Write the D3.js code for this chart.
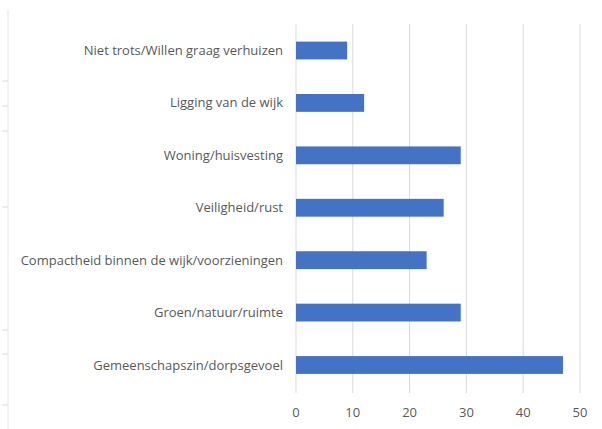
<!DOCTYPE html>
<html><head><meta charset="utf-8">
<script src="https://cdn.jsdelivr.net/npm/d3@7/dist/d3.min.js"></script>
<style>body{margin:0;background:#fff;} text{font-family:"Open Sans","Liberation Sans",Arial,sans-serif;}</style>
</head><body>
<svg id="c" width="602" height="429"></svg>
<script>
const categories = ["Niet trots/Willen graag verhuizen","Ligging van de wijk","Woning/huisvesting","Veiligheid/rust","Compactheid binnen de wijk/voorzieningen","Groen/natuur/ruimte","Gemeenschapszin/dorpsgevoel"];
const values = [9, 12, 29, 26, 23, 29, 47];
const xTicks = [0, 10, 20, 30, 40, 50];
const leftTicks = [81, 106, 131, 207, 330, 354, 405];

const svg = d3.select("#c");
const x = d3.scaleLinear().domain([0, 50]).range([296, 580]);
const y = d3.scaleBand().domain(categories).range([24.3, 391.2]).paddingInner(0.66).paddingOuter(0.33);

// left stray frame line
svg.append("line").attr("x1",8).attr("x2",8).attr("y1",10).attr("y2",429).attr("stroke","#e6e6e6").attr("stroke-width",1);
svg.selectAll(".lt").data(leftTicks).enter().append("line")
  .attr("x1",2).attr("x2",8).attr("y1",d=>d).attr("y2",d=>d).attr("stroke","#dcdcdc");

// gridlines
svg.selectAll(".g").data(xTicks).enter().append("line")
  .attr("x1",d=>x(d)).attr("x2",d=>x(d)).attr("y1",24).attr("y2",393)
  .attr("stroke","#d9d9d9").attr("stroke-width",1);

// bars
svg.selectAll(".b").data(categories).enter().append("rect")
  .attr("x", x(0)).attr("y", d=>y(d))
  .attr("width", (d,i)=>x(values[i])-x(0)).attr("height", y.bandwidth())
  .attr("fill","#4472C4");

// category labels
svg.selectAll(".cl").data(categories).enter().append("text")
  .attr("x", 283).attr("y", d=>y(d)+y.bandwidth()/2).attr("dy","0.35em")
  .attr("text-anchor","end").attr("font-size","13px").attr("fill","#595959")
  .text(d=>d);

// x tick labels
svg.selectAll(".xl").data(xTicks).enter().append("text")
  .attr("x", d=>x(d)).attr("y", 412).attr("dy","0.35em")
  .attr("text-anchor","middle").attr("font-size","13px").attr("fill","#595959")
  .text(d=>d);
</script>
</body></html>
